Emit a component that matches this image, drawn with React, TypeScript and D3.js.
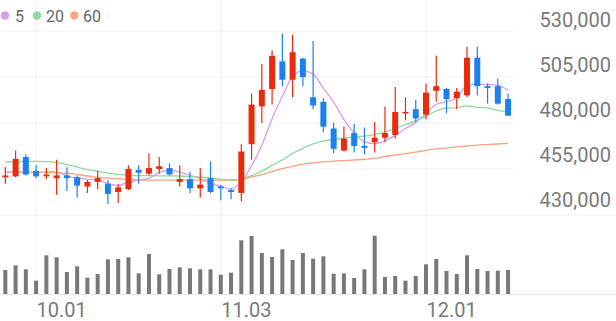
import React from "react";
import * as d3 from "d3";

const W = 616;
const H = 321;

const opens = [450500,451000,461500,454000,451000,450000,451500,450500,445500,448000,447000,442500,444000,454500,452500,455000,455500,448000,449500,444500,450000,445500,443500,442000,468500,489000,498500,513500,503500,515000,494000,491500,477000,465000,474500,467500,469500,472000,473500,485500,487500,484500,497500,498500,493500,495000,515500,500000,500000,493000];
const highs = [456000,465000,463000,457000,455500,460000,456000,451500,449000,454000,449000,447000,457000,457000,463500,461500,458000,457000,453500,455500,459000,446500,444500,468500,496000,512000,519500,528500,528000,515500,524500,493500,480000,478000,479500,477500,480500,489000,499500,494000,492500,501500,516500,499000,499000,521500,521500,501500,504000,496000];
const lows = [447000,450500,451500,450000,449500,441000,443000,439500,442000,444000,436000,436500,443500,447000,451500,452500,451500,445500,442000,439500,442000,438000,438500,437500,460000,480000,490000,500000,494000,500000,487500,475000,463500,464500,464000,463000,464000,469500,471500,481500,480500,482000,491500,485500,487500,494000,495000,490500,490000,484000];
const closes = [451500,460500,452000,451000,452000,451500,450000,446000,448000,450000,441500,445000,455000,453000,455500,456500,452000,449500,444500,446500,442500,444500,442500,464500,490000,498000,516500,503500,518500,505000,489500,478000,466000,471500,467500,466500,472000,474500,486000,486000,482500,496500,500000,493000,497000,515500,500000,499000,490500,484000];
const volumes = [240,287,247,133,387,367,220,277,163,200,347,350,367,207,400,197,250,267,257,247,247,193,213,537,580,410,370,447,340,410,353,377,203,207,160,247,583,170,180,133,180,297,350,230,200,387,250,230,233,240];

const ma5 = [453300,453400,453200,453000,453400,453400,451300,450100,449500,449100,447100,446100,447900,448900,450000,453000,454400,453300,451600,449800,447000,445500,444100,448100,456800,467900,482300,494500,505300,508300,506600,498900,491400,482000,474500,469900,468700,470400,473300,477000,480200,485100,490200,491600,493800,500400,501100,500900,500400,497800];
const ma20 = [458900,459000,459100,459100,459000,458500,457400,456100,454700,453750,452800,452100,451600,451400,451400,451300,451300,451200,450900,450575,450125,449325,448850,449525,451425,453750,457075,459950,463475,466225,468625,470275,470825,471750,472350,472850,473850,475100,477175,479150,481150,483750,486625,488050,488400,489275,488450,488225,486825,485775];
const ma60 = [453200,453200,453200,453200,453200,453000,452700,452000,451200,450500,450000,449700,449400,449100,449000,449000,449000,449000,449000,449000,449000,449000,449200,449400,450700,452000,453600,455200,456400,457600,458400,458900,459300,459600,459900,460300,460800,461800,462600,463400,464200,465100,465900,466400,467000,467500,468000,468300,468600,468900];

const yTicks = [530000, 505000, 480000, 455000, 430000];
const xTickIndex = [3, 21, 41];
const xTickLabels = ["10.01", "11.03", "12.01"];

const legendLabels = ["5", "20", "60"];
const maColors = ["#d69cf2", "#8fd9a2", "#f8a47e"];

const UP = "#ea2a0c";
const DOWN = "#1b80f0";
const FONT = "Roboto, 'Noto Sans', sans-serif";

export default function App() {
  const idx = d3.range(closes.length);
  const x = d3.scalePoint<number>().domain(idx).range([0.2, 513.2]).padding(0.5);
  const y = d3.scaleLinear().domain([430000, 530000]).range([215, 31]);
  const yLabel = d3.scaleLinear().domain([430000, 530000]).range([207.3, 26.7]);
  const yVol = d3.scaleLinear().domain([0, 1000]).range([294, 194]);

  const bodyW = 6;
  const volW = 4;

  const line = d3
    .line<number>()
    .x((_, i) => x(i) as number)
    .y((d) => y(d))
    .curve(d3.curveMonotoneX);

  const mas = [ma5, ma20, ma60];
  const legendCircleX = [5, 37, 74.3];
  const legendTextX = [15, 46, 83];

  return (
    <svg
      width={W}
      height={H}
      style={{ position: "absolute", left: 0, top: 0, background: "#fff" }}
      fontFamily={FONT}
    >
      {/* horizontal grid */}
      {yTicks.map((t, k) => (
        <line
          key={"hg" + t}
          x1={0}
          x2={k === yTicks.length - 1 ? W : 513}
          y1={y(t)}
          y2={y(t)}
          stroke="#efefef"
          strokeWidth={1}
        />
      ))}
      {/* vertical grid */}
      {xTickIndex.map((i) => (
        <line
          key={"vg" + i}
          x1={x(i) as number}
          x2={x(i) as number}
          y1={0}
          y2={294}
          stroke="#efefef"
          strokeWidth={1}
        />
      ))}
      {/* volume baseline */}
      <line x1={0} x2={W} y1={294.5} y2={294.5} stroke="#e6e6e6" strokeWidth={1} />

      {/* y labels */}
      {yTicks.map((t) => (
        <text
          key={"yl" + t}
          x={611}
          y={yLabel(t)}
          textAnchor="end"
          fontSize={20}
          fill="#7a7a7a"
        >
          {d3.format(",")(t)}
        </text>
      ))}

      {/* x labels */}
      {xTickIndex.map((i, k) => (
        <text
          key={"xl" + i}
          x={(x(i) as number) + 0.5}
          y={316.7}
          textAnchor="start"
          fontSize={20}
          fill="#7a7a7a"
        >
          {xTickLabels[k]}
        </text>
      ))}

      {/* MA lines */}
      {mas.map((m, k) => (
        <path
          key={"ma" + k}
          d={line(m) || ""}
          fill="none"
          stroke={maColors[k]}
          strokeWidth={1.3}
        />
      ))}

      {/* candles */}
      {idx.map((i) => {
        const cx = x(i) as number;
        const up = closes[i] >= opens[i];
        const col = up ? UP : DOWN;
        const top = y(Math.max(opens[i], closes[i]));
        const bot = y(Math.min(opens[i], closes[i]));
        const h = Math.max(bot - top, 1.5);
        return (
          <g key={"c" + i}>
            <line x1={cx} x2={cx} y1={y(highs[i])} y2={y(lows[i])} stroke={col} strokeWidth={1.2} />
            <rect x={cx - bodyW / 2} y={top} width={bodyW} height={h} fill={col} />
          </g>
        );
      })}

      {/* volume */}
      {idx.map((i) => (
        <rect
          key={"v" + i}
          x={(x(i) as number) - volW / 2}
          y={yVol(volumes[i])}
          width={volW}
          height={294 - yVol(volumes[i])}
          fill="#787878"
        />
      ))}

      {/* legend */}
      {legendLabels.map((l, k) => (
        <g key={"lg" + k}>
          <circle cx={legendCircleX[k]} cy={15.5} r={4.2} fill={maColors[k]} />
          <text x={legendTextX[k]} y={21.5} fontSize={16} fill="#666">
            {l}
          </text>
        </g>
      ))}
    </svg>
  );
}
